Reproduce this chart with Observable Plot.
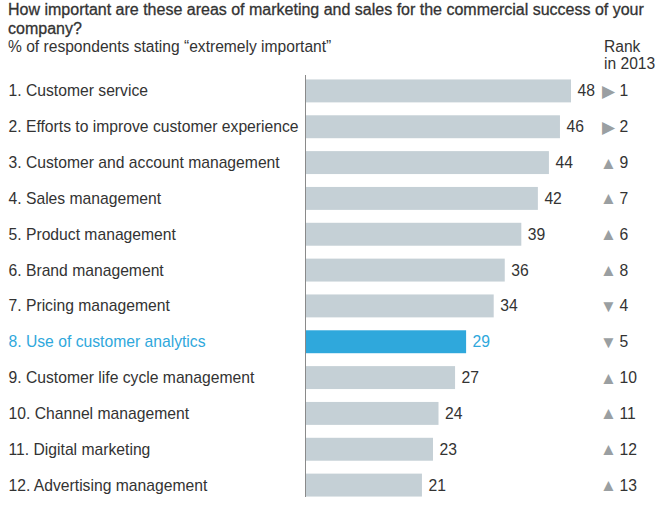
<!DOCTYPE html>
<html>
<head>
<meta charset="utf-8">
<script src="https://cdn.jsdelivr.net/npm/d3@7"></script>
<script src="https://cdn.jsdelivr.net/npm/@observablehq/plot@0.6"></script>
<style>
  html, body { margin: 0; padding: 0; background: #fff; }
  body { width: 656px; height: 507px; overflow: hidden; font-family: "Liberation Sans", Arial, Helvetica, sans-serif; color: #333; }
  #header { position: relative; height: 72px; }
  #title { position: absolute; left: 8px; top: 0px; width: 648px; font-size: 16px; line-height: 19px; color: #333; font-weight: normal; -webkit-text-stroke: 0.3px #333; }
  #subtitle { position: absolute; left: 8px; top: 38px; font-size: 15.6px; line-height: 17px; }
  #rank { position: absolute; left: 604px; top: 38px; font-size: 15.6px; line-height: 17px; }
  svg { display: block; }
</style>
</head>
<body>
<div id="header">
  <div id="title">How important are these areas of marketing and sales for the commercial success of your company?</div>
  <div id="subtitle">% of respondents stating “extremely important”</div>
  <div id="rank">Rank<br>in 2013</div>
</div>
<div id="chart"></div>
<script>
const areas = [
  "Customer service",
  "Efforts to improve customer experience",
  "Customer and account management",
  "Sales management",
  "Product management",
  "Brand management",
  "Pricing management",
  "Use of customer analytics",
  "Customer life cycle management",
  "Channel management",
  "Digital marketing",
  "Advertising management"
];
const values = [48, 46, 44, 42, 39, 36, 34, 29, 27, 24, 23, 21];
const rank2013 = [1, 2, 9, 7, 6, 8, 4, 5, 10, 11, 12, 13];
const highlight = "Use of customer analytics";

const data = areas.map((a, i) => {
  const rank = i + 1;
  const prev = rank2013[i];
  return {
    name: a,
    label: `${rank}. ${a}`,
    value: values[i],
    prev,
    arrow: prev === rank ? "▶" : (prev > rank ? "▲" : "▼"),
    hi: a === highlight
  };
});

const gray = "#c5d0d6";
const blue = "#2fa8dc";
const textColor = "#333";
const fs = 15.7;

const plot = Plot.plot({
  width: 656,
  height: 435,
  marginLeft: 306,
  marginRight: 85,
  marginTop: 1,
  marginBottom: 4,
  style: {fontFamily: "'Liberation Sans', Arial, Helvetica, sans-serif", fontSize: "15px", color: textColor, background: "#fff"},
  x: {domain: [0, 48], axis: null},
  y: {domain: areas, axis: null, paddingInner: 0.36, paddingOuter: 0.18, round: false},
  marks: [
    Plot.barX(data, {x: "value", y: "name", fill: d => d.hi ? blue : gray}),
    Plot.ruleX([0], {stroke: "#8a8a8a", strokeWidth: 1, insetTop: 2, insetBottom: 6, dx: -1}),
    Plot.text(data, {x: 0, y: "name", text: "label", textAnchor: "start", dx: -298,
      fill: d => d.hi ? blue : textColor, fontSize: fs}),
    Plot.text(data, {x: "value", y: "name", text: d => String(d.value), textAnchor: "start", dx: 6,
      fill: d => d.hi ? blue : textColor, fontSize: fs}),
    Plot.text(data, {y: "name", frameAnchor: "right", text: "arrow", textAnchor: "middle", dx: 37,
      fill: "#9a9fa2", fontSize: 17}),
    Plot.text(data, {y: "name", frameAnchor: "right", text: d => String(d.prev), textAnchor: "start", dx: 48,
      fill: textColor, fontSize: fs})
  ]
});
document.getElementById("chart").appendChild(plot);
</script>
</body>
</html>
